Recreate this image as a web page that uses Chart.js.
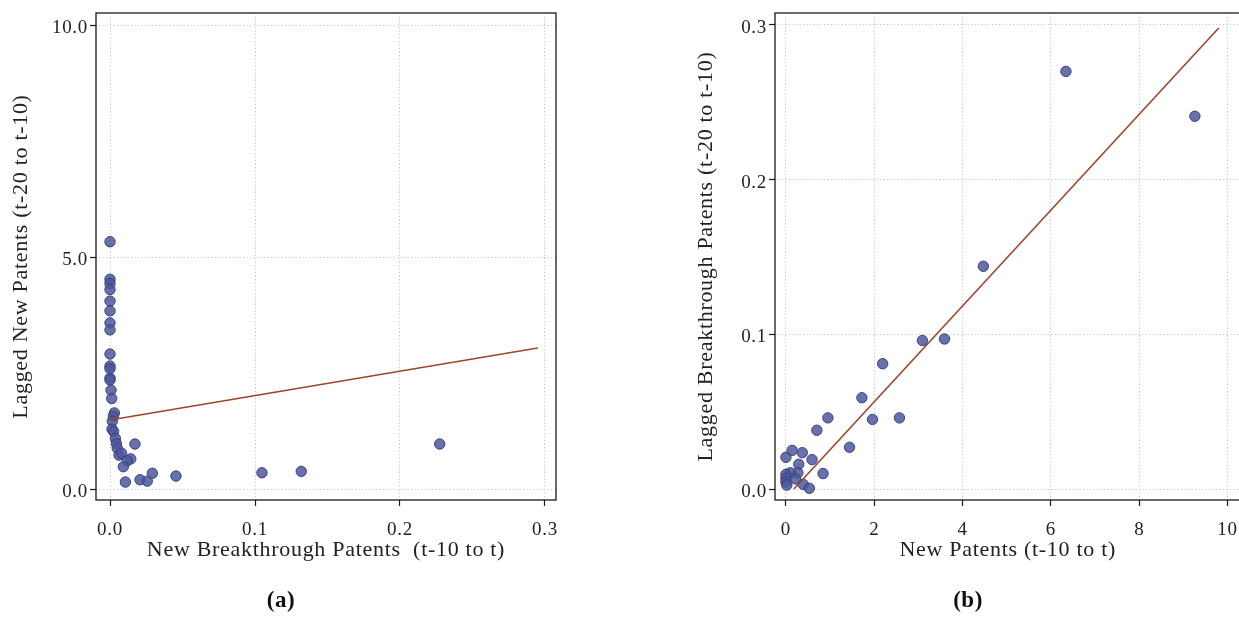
<!DOCTYPE html>
<html>
<head>
<meta charset="utf-8">
<script src="https://cdn.jsdelivr.net/npm/chart.js@4.4.0/dist/chart.umd.min.js"></script>
<style>
    html, body { margin: 0; padding: 0; background: #fff; overflow: hidden; width: 1239px; height: 617px; }
    canvas { position: absolute; top: 0; }
    #panelA { left: 0; }
    #panelB { left: 620px; }
    .tag { position: absolute; top: 587px; width: 100px; text-align: center; font: bold 23px 'Liberation Serif', serif; color: #111; letter-spacing: 0.5px; }
</style>
</head>
<body>
<canvas id="panelA" width="620" height="617"></canvas>
<canvas id="panelB" width="632" height="617"></canvas>
<div class="tag" style="left:231px">(a)</div>
<div class="tag" style="left:918px">(b)</div>
<script>
// panel (a): new breakthrough patents vs lagged new patents
const breakthroughA = [0, 0, 0, 0, 0, 0, 0, 0, 0, 0, 0, 0, 0, 0.0007, 0.0012, 0.003, 0.0023, 0.0016, 0.0014, 0.0025,
    0.0037, 0.0044, 0.005, 0.0062, 0.008, 0.0172, 0.0143, 0.012, 0.0092, 0.0106, 0.0207, 0.0257, 0.0292, 0.0455,
    0.1048, 0.1319, 0.2274];
const laggedNewA = [5.33, 4.52, 4.43, 4.30, 4.05, 3.84, 3.58, 3.43, 2.91, 2.65, 2.59, 2.39, 2.35, 2.13, 1.95, 1.64, 1.57,
    1.46, 1.29, 1.24, 1.09, 0.98, 0.88, 0.73, 0.77, 0.97, 0.65, 0.61, 0.48, 0.15, 0.20, 0.17, 0.34, 0.28, 0.35, 0.38, 0.97];
const fitXA = [0, 0.295];
const fitYA = [1.487, 3.04];
const xTicksA = [0, 0.1, 0.2, 0.3];
const xLabelsA = ['0.0', '0.1', '0.2', '0.3'];
const yTicksA = [0, 5, 10];
const yLabelsA = ['0.0', '5.0', '10.0'];

// panel (b): new patents vs lagged breakthrough patents
const newPatentsB = [6.34, 9.26, 4.47, 3.59, 3.09, 2.19, 1.72, 0.95, 0.70, 1.96, 2.57, 1.44, 0.59, 0.84, 0.0, 0.14, 0.37,
    0.29, 0.27, 0.10, 0.0, 0.0, 0.0, 0.02, 0.22, 0.39, 0.53];
const laggedBreakB = [0.270, 0.241, 0.144, 0.097, 0.096, 0.081, 0.059, 0.046, 0.038, 0.045, 0.046, 0.027, 0.019, 0.010,
    0.0205, 0.025, 0.0235, 0.016, 0.0105, 0.0105, 0.0095, 0.007, 0.0045, 0.0025, 0.0065, 0.003, 0.0005];
const fitXB = [0.18, 9.80];
const fitYB = [0, 0.298];
const xTicksB = [0, 2, 4, 6, 8, 10];
const xLabelsB = ['0', '2', '4', '6', '8', '10'];
const yTicksB = [0, 0.1, 0.2, 0.3];
const yLabelsB = ['0.0', '0.1', '0.2', '0.3'];

const serif = "'Liberation Serif', 'Times New Roman', serif";
const pairs = (xs, ys) => xs.map((x, i) => ({x: x, y: ys[i]}));

// box round the plot + a little letter spacing so Times gets closer to the LaTeX look
const frame = {
    id: 'frame',
    beforeUpdate(chart) { chart.ctx.letterSpacing = '0.7px'; },
    beforeDraw(chart) { chart.ctx.letterSpacing = '0.7px'; },
    afterDraw(chart) {
        const a = chart.chartArea;
        const ctx = chart.ctx;
        ctx.save();
        ctx.strokeStyle = '#1a1a1a';
        ctx.lineWidth = 1.3;
        ctx.strokeRect(a.left, a.top, a.right - a.left, a.bottom - a.top);
        ctx.restore();
    }
};

function axis(min, max, ticks, labels, title, fitSize, horizontal, titlePad, tickPad) {
    return {
        type: 'linear',
        min: min,
        max: max,
        afterBuildTicks: (s) => { s.ticks = ticks.map(v => ({value: v})); },
        afterFit: (s) => { if (horizontal) s.height = fitSize; else s.width = fitSize; },
        grid: {
            color: '#c4c4c4',
            lineWidth: 1,
            tickColor: '#1a1a1a',
            tickLength: 6,
            tickWidth: 1.2
        },
        border: { display: false, dash: [1.2, 2.3] },
        ticks: {
            color: '#222',
            padding: tickPad,
            labelOffset: horizontal ? 0 : 3,
            maxRotation: 0,
            autoSkip: false,
            font: { size: 19, family: serif, lineHeight: 1.1 },
            callback: (v) => labels[ticks.indexOf(v)]
        },
        title: {
            display: true,
            text: title,
            color: '#222',
            padding: horizontal ? {top: 0, bottom: titlePad} : {top: titlePad, bottom: 0},
            font: { size: 22, family: serif }
        }
    };
}

function makeChart(id, pts, fit, scales, padding) {
    return new Chart(document.getElementById(id), {
        type: 'scatter',
        data: {
            datasets: [{
                data: fit,
                showLine: true,
                borderColor: '#9e4528',
                borderWidth: 1.6,
                pointRadius: 0
            }, {
                data: pts,
                pointRadius: 5.2,
                backgroundColor: 'rgba(78, 88, 154, 0.85)',
                borderColor: 'rgba(52, 62, 130, 0.95)',
                borderWidth: 1
            }]
        },
        options: {
            responsive: false,
            animation: false,
            layout: { padding: padding },
            plugins: { legend: { display: false }, tooltip: { enabled: false } },
            scales: scales
        },
        plugins: [frame]
    });
}

makeChart('panelA', pairs(breakthroughA, laggedNewA), pairs(fitXA, fitYA), {
    x: axis(-0.00966, 0.30759, xTicksA, xLabelsA, 'New Breakthrough Patents  (t-10 to t)', 64, true, 1, 14),
    y: axis(-0.237, 10.259, yTicksA, yLabelsA, 'Lagged New Patents (t-20 to t-10)', 96, false, 8, 2)
}, {left: 0, top: 13, right: 64, bottom: 53});

makeChart('panelB', pairs(newPatentsB, laggedBreakB), pairs(fitXB, fitYB), {
    x: axis(-0.2477, 10.293, xTicksB, xLabelsB, 'New Patents (t-10 to t)', 64, true, 1, 14),
    y: axis(-0.00711, 0.30775, yTicksB, yLabelsB, 'Lagged Breakthrough Patents (t-20 to t-10)', 155, false, 73, 2)
}, {left: 0, top: 13, right: 9, bottom: 53});
</script>
</body>
</html>
